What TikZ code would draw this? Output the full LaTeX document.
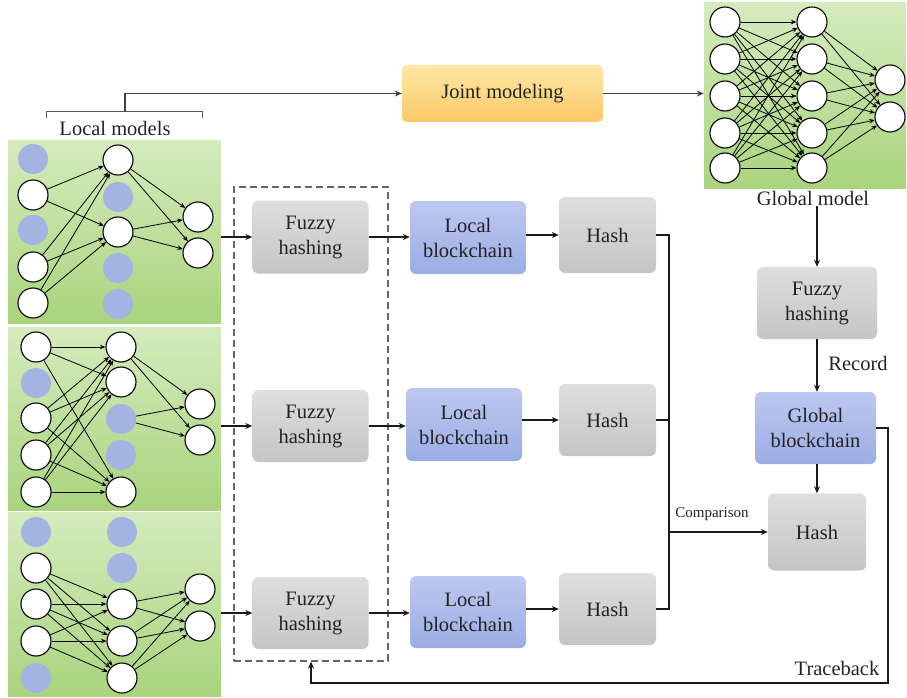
\documentclass[tikz,border=0pt]{standalone}
\usepackage{fontspec}
\setmainfont{Liberation Serif}
\usetikzlibrary{arrows.meta,calc}
\definecolor{txt}{HTML}{222222}
\definecolor{bluec}{HTML}{A3B4E2}
\definecolor{grtop}{HTML}{D5EBBD}
\definecolor{grbot}{HTML}{A9D47D}
\definecolor{gytop}{HTML}{DEDEDE}
\definecolor{gybot}{HTML}{C5C5C5}
\definecolor{bltop}{HTML}{BDC8F0}
\definecolor{blbot}{HTML}{9BADE3}
\definecolor{ortop}{HTML}{FEE8A6}
\definecolor{orbot}{HTML}{FBC965}
\definecolor{lnc}{HTML}{1A1A1A}
\newcommand\myfont{\fontsize{20.5}{25}\selectfont}
\newcommand\smfont{\fontsize{15}{18}\selectfont}
\tikzset{
  wn/.style={circle,draw=black,fill=white,line width=1.1pt,minimum size=30pt,inner sep=0pt},
  bn/.style={circle,fill=bluec,minimum size=30pt,inner sep=0pt},
  nnedge/.style={draw=black,line width=0.8pt,-{Stealth[length=5.5pt,width=4.5pt]}},
  arr/.style={draw=lnc,line width=1.2pt,-{Stealth[length=7pt,width=6pt]}},
  plain/.style={draw=lnc,line width=1.2pt},
  panel/.style={rectangle,top color=grtop,bottom color=grbot,draw=none,inner sep=0pt},
  graybox/.style={rectangle,rounded corners=6pt,top color=gytop,bottom color=gybot,align=center,text=txt,font=\myfont,inner sep=0pt},
  bluebox/.style={rectangle,rounded corners=6pt,top color=bltop,bottom color=blbot,align=center,text=txt,font=\myfont,inner sep=0pt},
  lbl/.style={text=txt,font=\myfont,inner sep=1pt},
}
\begin{document}
\begin{tikzpicture}[x=1pt,y=-1pt]
\useasboundingbox (0,0) rectangle (907,698);

% panels
\node[panel,minimum width=213pt,minimum height=183pt] (p1) at (114.5,231.5) {};
\node[panel,minimum width=213pt,minimum height=183pt] (p2) at (114.5,418.5) {};
\node[panel,minimum width=213pt,minimum height=184pt] (p3) at (114.5,604) {};
\node[panel,minimum width=202pt,minimum height=185pt] (gp) at (805,95.5) {};

% panel 1
\node[bn] (p1a1) at (33,159) {};
\node[wn] (p1a2) at (33,195) {};
\node[bn] (p1a3) at (33,230) {};
\node[wn] (p1a4) at (33,267) {};
\node[wn] (p1a5) at (33,303) {};
\node[wn] (p1b1) at (118,160) {};
\node[bn] (p1b2) at (118,197) {};
\node[wn] (p1b3) at (118,232) {};
\node[bn] (p1b4) at (118,268) {};
\node[bn] (p1b5) at (118,304) {};
\node[wn] (p1c1) at (198,217) {};
\node[wn] (p1c2) at (198,253) {};
\foreach \i in {2,4,5}{\foreach \j in {1,3}{\draw[nnedge] (p1a\i) -- (p1b\j);}}
\foreach \i in {1,3}{\foreach \j in {1,2}{\draw[nnedge] (p1b\i) -- (p1c\j);}}

% panel 2
\node[wn] (p2a1) at (36,347) {};
\node[bn] (p2a2) at (36,383) {};
\node[wn] (p2a3) at (36,418) {};
\node[wn] (p2a4) at (36,455) {};
\node[wn] (p2a5) at (36,492) {};
\node[wn] (p2b1) at (121,347) {};
\node[wn] (p2b2) at (121,382) {};
\node[bn] (p2b3) at (121,419) {};
\node[bn] (p2b4) at (121,455) {};
\node[wn] (p2b5) at (121,492) {};
\node[wn] (p2c1) at (200,404) {};
\node[wn] (p2c2) at (200,440) {};
\foreach \i in {1,3,4,5}{\foreach \j in {1,2,5}{\draw[nnedge] (p2a\i) -- (p2b\j);}}
\foreach \i in {1,3}{\foreach \j in {1,2}{\draw[nnedge] (p2b\i) -- (p2c\j);}}

% panel 3
\node[bn] (p3a1) at (36,532) {};
\node[wn] (p3a2) at (36,568) {};
\node[wn] (p3a3) at (36,604) {};
\node[wn] (p3a4) at (36,641) {};
\node[bn] (p3a5) at (36,678) {};
\node[bn] (p3b1) at (122,532) {};
\node[bn] (p3b2) at (122,568) {};
\node[wn] (p3b3) at (122,604) {};
\node[wn] (p3b4) at (122,641) {};
\node[wn] (p3b5) at (122,678) {};
\node[wn] (p3c1) at (200,589) {};
\node[wn] (p3c2) at (200,626) {};
\foreach \i in {2,3,4}{\foreach \j in {3,4,5}{\draw[nnedge] (p3a\i) -- (p3b\j);}}
\foreach \i in {3,4,5}{\foreach \j in {1,2}{\draw[nnedge] (p3b\i) -- (p3c\j);}}

% global model
\foreach \k/\yy in {1/22,2/59,3/96,4/133,5/168}{
  \node[wn] (ga\k) at (725,\yy) {};
  \node[wn] (gb\k) at (812,\yy) {};
}
\node[wn] (gc1) at (890,80) {};
\node[wn] (gc2) at (890,117) {};
\foreach \i in {1,...,5}{\foreach \j in {1,...,5}{\draw[nnedge] (ga\i) -- (gb\j);}}
\foreach \i in {1,...,5}{\foreach \j in {1,2}{\draw[nnedge] (gb\i) -- (gc\j);}}
\node[lbl] (gm) at (813,198) {Global model};

% labels and top path
\node[lbl] (lm) at (115,128) {Local models};
\node[rectangle,rounded corners=5pt,top color=ortop,bottom color=orbot,minimum width=201pt,minimum height=57pt,text=txt,font=\myfont] (jm) at (502.5,93.5) {Joint modeling};
\coordinate (brl) at (46,118);
\coordinate (brr) at (202,118);
\coordinate (brm) at (125,112);
\draw[plain,draw=gray!70!black,line width=1pt] (brl) -- ++(0,-6) -- ($(brr)+(0,-6)$) -- (brr);
\draw[arr,draw=gray!50!black,line width=1.5pt] (brm) |- (jm.west);
\draw[arr,draw=gray!50!black,line width=1.5pt] (jm.east) -- (gp.west |- jm.east);

% dashed box
\node[draw=gray!80!black,dashed,dash pattern=on 7pt off 4pt,line width=1.2pt,minimum width=154pt,minimum height=474pt,inner sep=0pt] (dbox) at (311,424) {};

% rows
\node[graybox,minimum width=116pt,minimum height=73pt] (f1) at (310.5,237) {Fuzzy\\hashing};
\node[graybox,minimum width=116pt,minimum height=72pt] (f2) at (310.5,426) {Fuzzy\\hashing};
\node[graybox,minimum width=116pt,minimum height=72pt] (f3) at (310.5,613) {Fuzzy\\hashing};
\node[bluebox,minimum width=116pt,minimum height=73pt] (l1) at (468,237.5) {Local\\blockchain};
\node[bluebox,minimum width=116pt,minimum height=73pt] (l2) at (464,424.5) {Local\\blockchain};
\node[bluebox,minimum width=116pt,minimum height=72pt] (l3) at (468,612) {Local\\blockchain};
\node[graybox,minimum width=97pt,minimum height=76pt] (h1) at (607.5,235) {Hash};
\node[graybox,minimum width=97pt,minimum height=72pt] (h2) at (607.5,420) {Hash};
\node[graybox,minimum width=97pt,minimum height=72pt] (h3) at (607.5,609) {Hash};

\draw[arr] (p1.east |- f1.west) -- (f1.west);
\draw[arr] (p2.east |- f2.west) -- (f2.west);
\draw[arr] (p3.east |- f3.west) -- (f3.west);
\draw[arr] (f1.east) -- (l1.west |- f1.east);
\draw[arr] (f2.east) -- (l2.west |- f2.east);
\draw[arr] (f3.east) -- (l3.west |- f3.east);
\draw[arr] (l1.east |- h1.west) -- (h1.west);
\draw[arr] (l2.east |- h2.west) -- (h2.west);
\draw[arr] (l3.east |- h3.west) -- (h3.west);

% comparison bus
\coordinate (vx) at (669,0);
\draw[plain] (h1.east) -- (h1.east -| vx) -- (h3.east -| vx) -- (h3.east);
\draw[plain] (h2.east) -- (h2.east -| vx);

% global chain
\node[graybox,minimum width=120pt,minimum height=72pt] (fg) at (817,303) {Fuzzy\\hashing};
\node[bluebox,minimum width=121pt,minimum height=72pt] (gbc) at (815.5,428) {Global\\blockchain};
\node[graybox,minimum width=98pt,minimum height=77pt] (hg) at (817,532) {Hash};
\draw[arr] (vx |- hg.west) -- (hg.west);
\node[text=txt,font=\smfont,inner sep=1pt] (cmp) at (712,514) {Comparison};
\draw[arr] (fg.north |- gm.south) -- (fg.north);
\draw[arr] (fg.south) -- (fg.south |- gbc.north);
\node[lbl] (rec) at (858,363) {Record};
\draw[arr] (hg.north |- gbc.south) -- (hg.north);

% traceback
\coordinate (tb) at (888,683);
\draw[arr] (gbc.east) -| (tb) -| (dbox.south);
\node[lbl] (trc) at (837,668) {Traceback};
\end{tikzpicture}
\end{document}
